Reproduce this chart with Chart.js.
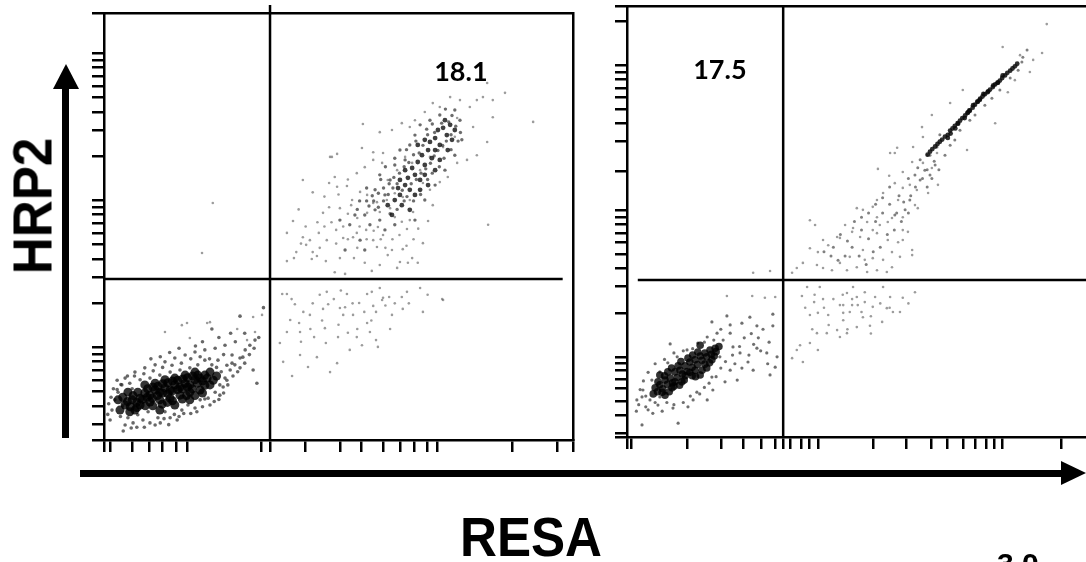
<!DOCTYPE html>
<html><head><meta charset="utf-8">
<script src="https://cdn.jsdelivr.net/npm/chart.js@4.4.1/dist/chart.umd.min.js"></script>
<style>
html,body{margin:0;padding:0;background:#fff;width:1086px;height:562px;overflow:hidden;position:relative;font-family:"Liberation Sans",Arial,sans-serif;}
canvas{position:absolute;left:0;top:0;}
.txt{position:absolute;font-weight:bold;color:#000;line-height:1;white-space:nowrap;}
.blk{position:absolute;background:#000;}
.tri{position:absolute;width:0;height:0;}
</style></head><body>
<canvas id="leftPanel" width="1086" height="562"></canvas>
<canvas id="rightPanel" width="1120" height="562"></canvas>
<div class="blk" style="left:62px;top:86px;width:7px;height:352px;"></div>
<div class="tri" style="left:53px;top:64px;border-left:13px solid transparent;border-right:13px solid transparent;border-bottom:25px solid #000;"></div>
<div class="blk" style="left:80px;top:470px;width:983px;height:7px;"></div>
<div class="tri" style="left:1061px;top:461px;border-top:12.5px solid transparent;border-bottom:12.5px solid transparent;border-left:25px solid #000;"></div>
<div class="txt" style="left:33px;top:206px;font-size:55px;transform:translate(-50%,-50%) rotate(-90deg) scaleX(0.93);">HRP2</div>
<div class="txt" style="left:531px;top:510px;font-size:55px;transform:translateX(-50%) scaleX(0.93);">RESA</div>
<div class="txt" style="left:997px;top:549px;font-size:30px;">3.0 –</div>
<script>
// ---- axis ticks (channel units, 0..1000 across each plot) ----
const leftXTicks = [0,14,61,96,125,155,178,336,354,430,503,549,596,632,661,689,711,871,967,1000];
const leftYTicks = [0,37,80,115,140,164,185,201,218,321,382,424,459,484,508,529,545,562,665,725,768,803,828,852,873,889,906,1000];
const rightXTicks = [0,8,128,200,247,287,317,333,348,371,388,407,524,595,648,682,718,743,767,784,801,925,1000];
const rightYTicks = [0,9,51,84,112,133,154,170,186,288,349,391,423,451,472,493,509,526,616,686,728,761,789,809,830,847,863,965,1000];

// ---- quadrant gates [xGate, yGate] ----
const leftGate = [354, 377];
const rightGate = [333, 364];

// ---- quadrant percentages ----
const leftLabel = {text:'18.1', x:761, y:862};
const rightLabel = {text:'17.5', x:198, y:851};

// ---- left panel events [RESA channel, HRP2 channel] ----
const leftBlob = [[45,82],[60,94],[77,98],[87,110],[98,105],[109,117],[119,112],[130,122],[141,117],[151,129],[162,124],[173,133],[183,129],[194,141],[205,145],[215,152],[226,159],[98,89],[119,94],[141,98],[162,105],[183,112],[77,82],[66,70],[130,141],[151,145],[173,152],[194,159],[109,133],[87,129],[55,66],[205,117],[226,129],[34,70],[30,94],[51,112],[119,70],[151,82],[183,94],
[50,90],[70,88],[82,95],[92,100],[103,98],[114,104],[125,110],[136,108],[146,115],[157,118],[167,120],[178,124],[188,120],[199,133],[210,138],[220,145],[93,120],[104,124],[115,126],[125,132],[136,134],[146,138],[157,140],[168,143],[178,146],[189,150],[200,152],[62,104],[72,112],[40,100],[56,78],[70,76],[88,80],[104,80],[124,84],[135,88],[146,92],[167,96],[176,104],[194,104],[210,110],[215,128],[233,140],[240,150]];
const leftHalo = [[13,47],[17,70],[23,94],[30,112],[38,129],[45,35],[51,52],[62,40],[72,59],[83,47],[94,66],[109,35],[115,52],[130,66],[141,52],[156,47],[166,70],[179,82],[194,75],[205,94],[222,98],[237,112],[247,129],[258,145],[269,164],[279,176],[290,192],[301,211],[311,222],[322,234],[230,176],[243,187],[215,187],[200,176],[183,169],[162,164],[141,159],[119,152],[98,145],[77,141],[55,133],[45,145],[66,159],[87,169],[109,176],[130,183],[151,192],[173,199],[194,206],[215,211],[237,215],[258,222],[273,199],[290,169],[264,129],[247,105],[226,82],[41,21],[215,96],[254,124],[273,180],[296,194],[318,164],[326,133],
[8,60],[10,85],[15,100],[20,120],[28,140],[35,55],[40,80],[58,28],[70,30],[86,30],[98,40],[120,40],[128,50],[138,36],[150,60],[160,55],[170,62],[185,62],[198,66],[210,78],[235,90],[245,95],[255,110],[262,140],[275,150],[285,160],[300,180],[310,200],[320,215],[330,240],[250,160],[262,175],[240,170],[225,190],[205,195],[185,190],[165,180],[145,175],[125,170],[105,162],[85,155],[65,150],[50,150],[36,130],[28,118],[60,120],[255,200],[280,230],[300,250],[245,240],[270,250],[210,230],[195,220],[160,215],[140,205],[120,195],[100,190],[230,260],[290,290],[340,310]];
const leftCore = [[605,550],[620,562],[631,574],[627,590],[642,597],[652,586],[648,614],[663,621],[674,609],[657,637],[669,651],[684,644],[678,667],[691,679],[699,660],[695,698],[706,707],[716,691],[712,726],[723,731],[731,714],[727,749],[738,738],[684,621],[663,574],[635,550],[706,632],[716,656],[733,679],[614,527],[652,539],[674,586],[691,597],[642,632],[631,609],[669,691],[684,703],[706,679],[742,703],[748,726]];
const leftMedium = [[567,504],[588,515],[599,492],[578,539],[556,527],[620,504],[599,574],[578,586],[610,609],[588,621],[620,644],[642,656],[631,679],[652,691],[663,714],[674,738],[695,749],[716,761],[748,773],[759,749],[763,703],[748,667],[727,632],[706,597],[684,562],[663,515],[546,468],[524,504],[514,445],[556,445],[535,527],[503,515],
[560,560],[572,572],[585,545],[596,560],[606,575],[616,590],[625,600],[636,585],[646,570],[655,600],[666,610],[676,625],[686,635],[696,648],[704,665],[712,678],[722,690],[730,700],[740,715],[750,735],[735,745],[720,742],[705,720],[690,715],[680,690],[672,672],[660,668],[650,650],[640,640],[630,625],[618,615],[608,600],[596,590],[585,578],[575,560],[565,548],[610,530],[625,540],[640,560],[660,560],[675,575],[690,610],[700,625],[715,640],[725,660],[740,680],[755,700],[760,720],[742,760],[728,775],[700,740],[688,728],[665,700],[645,680],[620,660],[600,640],[590,610],[560,590],[545,560],[540,540]];
const leftSparse = [[305,234],[322,253],[284,260],[337,293],[318,288],[183,239],[220,274],[226,276],[177,274],[166,269],[130,253],
[232,555],[209,438],
[407,318],[397,281],[416,274],[439,293],[467,307],[478,318],[503,309],[514,311],[531,293],[544,321],[574,314],[593,328],[637,307],[614,293],[680,300],[723,328],[390,253],[418,253],[448,241],[471,262],[499,241],[520,251],[539,241],[561,274],[567,253],[580,234],[550,222],[524,211],[497,180],[473,227],[454,194],[418,199],[382,183],[401,150],[435,171],[482,159],[375,227],[584,218],[510,293],[380,342],[390,342],[475,347],[518,342],[561,342],[571,347],[588,356],[595,333],[608,335],[635,335],[646,347],[674,356],[721,330],
[400,330],[425,300],[445,320],[460,340],[490,330],[505,350],[530,320],[555,300],[580,300],[600,315],[620,320],[650,320],[690,340],[420,230],[440,260],[465,280],[500,270],[540,260],[570,280],[610,260],
[390,419],[405,426],[443,424],[454,431],[473,419],[514,389],[492,393],[503,426],[533,426],[556,415],[571,396],[588,410],[605,433],[625,403],[631,417],[648,415],[669,415],[657,426],[637,447],[614,445],[582,452],[574,468],[595,480],[584,499],[559,492],[539,485],[531,475],[510,473],[495,492],[475,468],[458,485],[439,468],[431,457],[424,475],[403,513],[390,485],[467,532],[503,543],[527,550],[561,532],[574,555],[588,534],[610,543],[620,522],[635,511],[652,515],[646,494],[680,461],[691,513],[701,550],[659,534],[652,562],[637,569],[620,578],[603,562],[582,557],[561,574],[546,581],[529,562],[518,595],[497,593],[480,602],[492,616],[424,609],[486,663],[497,670],[539,625],[556,639],[574,656],[593,649],[605,609],[625,632],[642,663],[657,649],[674,632],[680,602],[695,586],[716,604],[733,616],[753,649],[774,656],[795,667],[819,504],
[410,440],[420,460],[445,440],[460,450],[470,500],[485,510],[495,460],[510,500],[520,470],[540,450],[545,500],[560,470],[575,490],[590,470],[600,450],[615,470],[630,480],[645,455],[660,470],[670,495],[520,530],[540,520],[480,545],[455,510],[430,500],[415,540],[445,580],[470,570],[500,575],[520,610],
[552,740],[588,721],[614,726],[635,742],[652,733],[663,749],[684,768],[701,789],[716,780],[738,803],[759,796],[780,780],[795,796],[808,803],[829,796],[855,813],[817,836],[915,745],[829,756],[817,698],[482,663],[550,684],[574,674],[595,672],[753,754],[787,733],[748,710],[723,686],[695,663]];

// ---- right panel events ----
const rightBlob = [[60,114],[70,121],[81,132],[92,137],[102,151],[113,155],[124,165],[134,174],[145,179],[156,188],[166,195],[177,202],[188,206],[75,104],[96,114],[117,128],[139,142],[160,155],[87,151],[109,165],[130,183],[151,197],[102,128],[124,142],[145,155],[166,169],[81,97],[70,144],[156,213],[181,179],
[65,105],[76,112],[86,122],[97,126],[107,138],[118,146],[128,152],[139,162],[150,168],[160,178],[170,186],[180,192],[190,198],[90,105],[100,118],[112,120],[122,132],[134,150],[146,140],[156,144],[170,160],[176,172],[186,188],[196,210],[56,100],[66,128],[80,142],[95,160],[115,175],[140,190]];
const rightHalo = [[92,216],[181,267],[213,281],[220,260],[245,264],[262,278],[277,258],[311,285],[311,258],[303,220],[298,195],[320,186],[316,162],[305,144],[269,155],[258,174],[241,195],[220,155],[209,128],[183,109],[181,139],[149,104],[130,70],[98,67],[66,74],[45,63],[32,28],[109,32],[21,86],[34,109],[53,132],[70,151],[87,172],[107,186],[128,202],[151,218],[171,232],[192,241],[205,225],[198,186],[226,209],[32,93],[49,86],[70,93],[81,102],[171,86],[141,86],[235,132],[277,206],[220,241],
[20,60],[25,75],[40,70],[55,55],[60,80],[75,60],[85,80],[100,75],[120,80],[135,95],[155,100],[165,115],[175,125],[190,140],[200,160],[210,175],[225,190],[240,210],[250,230],[265,240],[280,230],[290,250],[200,250],[185,225],[165,220],[140,205],[120,200],[100,195],[80,180],[60,170],[45,150],[35,130],[28,110],[40,95],[230,170],[245,160],[260,190],[270,215],[285,200],[300,170]];
const rightCore = [[678,697],[689,711],[699,722],[710,734],[721,746],[731,757],[742,771],[753,785],[763,795],[774,806],[785,818],[795,827],[806,839],[817,850],[827,860],[667,685],[657,674],[646,662],[684,701],[706,727],[727,753],[748,778],[770,802],[791,822],
[672,690],[694,716],[705,728],[715,740],[726,752],[737,764],[747,778],[758,790],[769,800],[780,812],[790,822],[800,833],[811,845],[822,855],[832,866],[662,680],[651,668],[641,655],[684,694],[700,716],[720,740],[738,770],[760,796],[781,816],[801,839],[690,704],[730,758],[752,782]];
const rightMedium = [[625,643],[635,619],[614,608],[657,631],[678,654],[689,677],[667,701],[699,689],[710,712],[731,735],[742,747],[763,770],[778,786],[795,805],[817,833],[834,851],[842,870],[646,608],[625,596],[603,550],[593,527],[571,515],[853,898],[844,881],[661,673],[646,654],
[440,440],[455,470],[470,455],[485,500],[500,480],[515,460],[530,500],[545,520],[560,540],[575,520],[590,545],[605,560],[615,580],[630,600],[640,620],[655,640],[600,520],[585,500],[570,480],[555,470],[540,440],[525,430],[510,400],[495,420],[480,440],[465,420],[450,410],[435,420],[420,430],[600,600],[620,625],[580,560],[560,580],[545,555],[530,540],[515,520],[500,510],[640,580],[650,600],[665,620]];
const rightSparse = [[213,327],[267,327],[294,323],[316,325],[269,381],[305,385],
[373,327],[384,348],[411,348],[399,313],[418,320],[469,334],[482,348],[490,325],[507,336],[529,325],[546,348],[561,325],[588,323],[614,336],[461,306],[480,306],[524,302],[554,299],[390,283],[407,288],[429,283],[454,306],[461,288],[475,290],[492,306],[507,313],[567,290],[582,290],[405,241],[426,241],[448,248],[469,241],[490,255],[518,258],[544,267],[454,232],[369,213],[390,218],[407,202],[352,183],[375,174],[362,202],[461,271],[503,278],
[380,300],[400,330],[420,300],[440,320],[460,330],[480,320],[500,290],[520,280],[540,310],[560,300],[600,310],[430,260],[470,250],[520,240],[395,250],
[561,659],[571,659],[640,654],[661,659],[725,666],[535,622],[559,606],[588,615],[608,638],[631,636],[650,624],[663,585],[642,566],[618,573],[603,585],[588,578],[578,550],[571,589],[546,566],[533,550],[524,534],[503,527],[490,531],[533,510],[565,508],[588,510],[614,538],[620,531],[588,480],[599,476],[556,499],[539,492],[524,480],[512,499],[482,485],[465,492],[454,462],[448,464],[480,476],[497,464],[533,473],[556,457],[578,452],[588,457],[608,434],[608,422],[582,418],[565,429],[546,411],[524,415],[503,434],[475,418],[490,394],[507,411],[533,387],[554,383],[565,394],[469,387],[454,404],[437,387],[418,392],[405,399],[390,438],[407,429],[429,445],[418,457],[390,503],[401,492],[375,404],[362,392],[352,381],[512,383],
[895,958],[801,905],[885,891],[866,875],[859,847],[827,828],[812,800],[785,728],[716,805],[689,775],[650,747],[629,719],[631,696],[610,673],[576,671],[838,886]];

// ---- drawing ----
const quadLabel = {
  id: 'quadLabel',
  afterDatasetsDraw(chart, args, opts) {
    const ctx = chart.ctx, sx = chart.scales.x, sy = chart.scales.y;
    ctx.save();
    ctx.font = 'bold 27px Lato, "Open Sans", sans-serif';
    ctx.fillStyle = '#000';
    ctx.textAlign = 'center';
    ctx.textBaseline = 'middle';
    ctx.fillText(opts.text, sx.getPixelForValue(opts.x), sy.getPixelForValue(opts.y));
    ctx.restore();
  }
};

function pts(arr) { return arr.map(p => ({x: p[0], y: p[1]})); }
function dots(arr, r, color) {
  return {data: pts(arr), pointRadius: r, pointHoverRadius: r, pointBackgroundColor: color, pointBorderWidth: 0, borderWidth: 0, showLine: false};
}
function gateLines(g, vTop, hStart, hEnd) {
  return [
    {type: 'line', data: [{x: g[0], y: 0}, {x: g[0], y: vTop}], borderColor: '#000', borderWidth: 2.5, pointRadius: 0, fill: false, clip: false},
    {type: 'line', data: [{x: hStart, y: g[1]}, {x: hEnd, y: g[1]}], borderColor: '#000', borderWidth: 2.5, pointRadius: 0, fill: false, clip: false}
  ];
}
function axis(pos, ticks) {
  return {
    type: 'linear', position: pos, min: 0, max: 1000,
    afterBuildTicks: s => { s.ticks = ticks.map(v => ({value: v})); },
    ticks: {display: false, autoSkip: false},
    grid: {display: true, drawOnChartArea: false, drawTicks: true, tickLength: 12, tickWidth: 2.5, tickColor: '#000', lineWidth: 2.5, color: '#000'},
    border: {display: true, color: '#000', width: 2.5}
  };
}
function frame(pos) {
  return {type: 'linear', position: pos, min: 0, max: 1000, ticks: {display: false}, grid: {display: false, drawTicks: false}, border: {display: true, color: '#000', width: 2.5}};
}
function panel(id, padding, xt, yt, datasets, label) {
  return new Chart(document.getElementById(id), {
    type: 'scatter',
    data: {datasets: datasets},
    options: {
      responsive: false, animation: false, events: [],
      layout: {padding: padding},
      plugins: {legend: {display: false}, tooltip: {enabled: false}, quadLabel: label},
      scales: {x: axis('bottom', xt), y: axis('left', yt), xTop: frame('top'), yRight: frame('right')}
    },
    plugins: [quadLabel]
  });
}

panel('leftPanel', {left: 92, top: 13, right: 513, bottom: 110}, leftXTicks, leftYTicks,
  gateLines(leftGate, 1019, 0, 978).concat([
    dots(leftBlob, 4.5, 'rgba(0,0,0,0.8)'),
    dots(leftCore, 2.4, 'rgba(15,15,15,0.8)'),
    dots(leftHalo, 1.8, 'rgba(40,40,40,0.7)'),
    dots(leftMedium, 1.7, 'rgba(45,45,45,0.7)'),
    dots(leftSparse, 1.3, 'rgba(90,90,90,0.6)')
  ]), leftLabel);

panel('rightPanel', {left: 615, top: 6, right: 24, bottom: 113}, rightXTicks, rightYTicks,
  gateLines(rightGate, 1000, 23, 1000).concat([
    dots(rightBlob, 3.8, 'rgba(0,0,0,0.8)'),
    dots(rightCore, 2.4, 'rgba(10,10,10,0.85)'),
    dots(rightHalo, 1.6, 'rgba(50,50,50,0.7)'),
    dots(rightMedium, 1.5, 'rgba(60,60,60,0.65)'),
    dots(rightSparse, 1.3, 'rgba(90,90,90,0.6)')
  ]), rightLabel);
</script>
</body></html>
